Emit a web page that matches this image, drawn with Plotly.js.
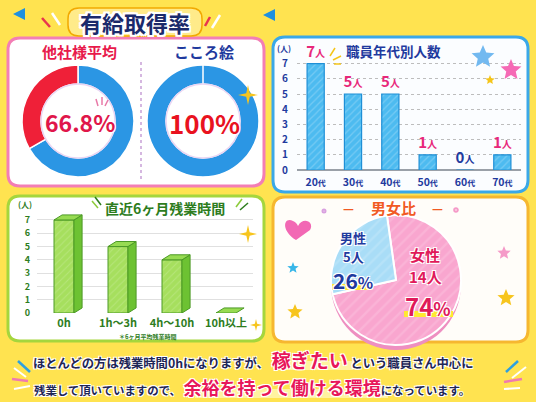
<!DOCTYPE html>
<html><head><meta charset="utf-8">
<script src="https://cdn.plot.ly/plotly-3.0.1.min.js"></script>
<style>html,body{margin:0;padding:0;background:#FFE350;}#chart{width:536px;height:402px;}</style>
</head><body><div id="chart"></div>
<script>
// ---- data ----
const leaveLabels = ['他社様平均', 'こころ絵'];
const leaveRates = [66.8, 100];
const ageGroups = ['20代', '30代', '40代', '50代', '60代', '70代'];
const ageCounts = [7, 5, 5, 1, 0, 1];
const overtimeCats = ['0h', '1h～3h', '4h～10h', '10h以上'];
const overtimeCounts = [7, 5, 4, 0];
const genderLabels = ['男性', '女性'];
const genderCounts = [5, 14];
const genderPct = [26, 74];
const countTicks = [0, 1, 2, 3, 4, 5, 6, 7];

// ---- helpers ----
const W = 536, H = 402;
const X = v => v / W, Y = v => 1 - v / H;
const F = '"Noto Sans CJK JP","Noto Sans",sans-serif';
const NAVY = '#1F3A9E', GREEN = '#2E7D1E', DARK = '#1E2656';
const WHITE1 = '1px 1px 0 #fff,-1px -1px 0 #fff,1px -1px 0 #fff,-1px 1px 0 #fff';
const WHITE2 = '2px 2px 0 #fff,-2px -2px 0 #fff,2px -2px 0 #fff,-2px 2px 0 #fff,0 2px 0 #fff,0 -2px 0 #fff,2px 0 0 #fff,-2px 0 0 #fff';

function rr(x0, y0, x1, y1, r) {
  return `M${X(x0 + r)},${Y(y0)} L${X(x1 - r)},${Y(y0)} Q${X(x1)},${Y(y0)} ${X(x1)},${Y(y0 + r)} ` +
    `L${X(x1)},${Y(y1 - r)} Q${X(x1)},${Y(y1)} ${X(x1 - r)},${Y(y1)} L${X(x0 + r)},${Y(y1)} ` +
    `Q${X(x0)},${Y(y1)} ${X(x0)},${Y(y1 - r)} L${X(x0)},${Y(y0 + r)} Q${X(x0)},${Y(y0)} ${X(x0 + r)},${Y(y0)} Z`;
}
function starPath(cx, cy, R, r, n) {
  let s = '';
  for (let i = 0; i < 2 * n; i++) {
    const a = -Math.PI / 2 + i * Math.PI / n;
    const rad = i % 2 === 0 ? R : r;
    s += (i === 0 ? 'M' : 'L') + X(cx + rad * Math.cos(a)) + ',' + Y(cy + rad * Math.sin(a)) + ' ';
  }
  return s + 'Z';
}
function polyPath(pts) {
  return pts.map((p, i) => (i ? 'L' : 'M') + X(p[0]) + ',' + Y(p[1])).join(' ') + ' Z';
}
function pathShape(path, fill, line, lw, layer) {
  return { type: 'path', xref: 'paper', yref: 'paper', path, fillcolor: fill,
    line: { color: line || fill, width: lw === undefined ? 0 : lw }, layer: layer || 'above' };
}
function lineShape(x0, y0, x1, y1, color, w, dash) {
  return { type: 'line', xref: 'paper', yref: 'paper', x0: X(x0), y0: Y(y0), x1: X(x1), y1: Y(y1),
    line: { color, width: w, dash: dash || 'solid' }, layer: 'above' };
}
function rectShape(x0, y0, x1, y1, fill) {
  return { type: 'rect', xref: 'paper', yref: 'paper', x0: X(x0), y0: Y(y1), x1: X(x1), y1: Y(y0),
    fillcolor: fill, line: { width: 0 }, layer: 'above' };
}
function circleShape(cx, cy, r, color, w) {
  return { type: 'circle', xref: 'paper', yref: 'paper', x0: X(cx - r), x1: X(cx + r), y0: Y(cy + r), y1: Y(cy - r),
    line: { color, width: w }, layer: 'above' };
}
function ann(text, x, y, size, color, extra) {
  return Object.assign({ text, x: X(x), y: Y(y), xref: 'paper', yref: 'paper', showarrow: false,
    xanchor: 'center', yanchor: 'middle',
    font: { family: F, size, color, weight: 'bold' } }, extra || {});
}
function annS(text, x, y, size, color, shadow) {
  return ann(text, x, y, size, color, { font: { family: F, size, color, weight: 'bold', shadow } });
}

// ---- traces ----
const traces = [];

// donuts
[[22, 134], [147, 259]].forEach((xr, k) => {
  traces.push({
    type: 'pie', values: [leaveRates[k], 100 - leaveRates[k]], labels: ['取得', '未取得'],
    marker: { colors: ['#2B96E4', '#EF2038'], line: { color: '#ffffff', width: 1.5 } },
    domain: { x: [X(xr[0]), X(xr[1])], y: [Y(177), Y(65)] },
    hole: 0.66, sort: false, direction: 'clockwise', rotation: 0,
    textinfo: 'none', hoverinfo: 'skip', showlegend: false
  });
});

// age bar chart
traces.push({
  type: 'bar', x: ageGroups, y: ageCounts, xaxis: 'x', yaxis: 'y',
  marker: { color: '#4DBBF0', line: { color: '#1E8FD6', width: 1.2 },
    pattern: { shape: '/', fillmode: 'overlay', fgcolor: 'rgba(255,255,255,0.45)', size: 5, solidity: 0.25 } },
  text: ageCounts.map(v => `${v}<span style="font-size:10px">人</span>`),
  textposition: 'outside', cliponaxis: false, constraintext: 'none',
  textfont: { family: F, size: 15, weight: 'bold', color: ageCounts.map(v => v === 0 ? NAVY : '#E8287A') },
  hoverinfo: 'skip', showlegend: false
});

// overtime 3D bars
const idx = overtimeCats.map((_, i) => i);
const hw = 0.185, dx = 0.15, dy = 0.38;
traces.push({
  type: 'bar', x: idx, y: overtimeCounts, width: 2 * hw, xaxis: 'x2', yaxis: 'y2',
  marker: { color: '#A6DF5E', line: { color: '#4C9A26', width: 1 },
    pattern: { shape: '/', fillmode: 'overlay', fgcolor: 'rgba(255,255,255,0.35)', size: 5, solidity: 0.2 } },
  hoverinfo: 'skip', showlegend: false
});
const sx = [], sy = [], tx = [], ty = [];
overtimeCounts.forEach((v, i) => {
  if (v > 0) {
    sx.push(i + hw, i + hw + dx, i + hw + dx, i + hw, i + hw, null);
    sy.push(0, dy, v + dy, v, 0, null);
  }
  tx.push(i - hw, i + hw, i + hw + dx, i - hw + dx, i - hw, null);
  ty.push(v, v, v + dy, v + dy, v, null);
});
traces.push({ type: 'scatter', x: sx, y: sy, xaxis: 'x2', yaxis: 'y2', mode: 'lines', fill: 'toself',
  fillcolor: '#6DC232', line: { color: '#4C9A26', width: 1 }, hoverinfo: 'skip', showlegend: false });
traces.push({ type: 'scatter', x: tx, y: ty, xaxis: 'x2', yaxis: 'y2', mode: 'lines', fill: 'toself',
  fillcolor: '#97DB52', line: { color: '#4C9A26', width: 1 }, hoverinfo: 'skip', showlegend: false });

// gender pie (thickness + face)
const gVals = genderCounts.slice().reverse();
const gLabs = genderLabels.slice().reverse();
traces.push({
  type: 'pie', values: gVals, labels: gLabs, sort: false, direction: 'clockwise', rotation: -8,
  marker: { colors: ['#EE8FC1', '#EE8FC1'], line: { color: '#EE8FC1', width: 0 } },
  domain: { x: [X(331), X(461)], y: [Y(350), Y(220)] },
  textinfo: 'none', hoverinfo: 'skip', showlegend: false
});
traces.push({
  type: 'pie', values: gVals, labels: gLabs, sort: false, direction: 'clockwise', rotation: -8,
  marker: { colors: ['#F9A6CF', '#A9DDF7'], line: { color: '#ffffff', width: 2 },
    pattern: { shape: '/', fillmode: 'overlay', fgcolor: 'rgba(255,255,255,0.3)', size: 8, solidity: 0.3 } },
  domain: { x: [X(331), X(461)], y: [Y(345), Y(215)] },
  textinfo: 'none', hoverinfo: 'skip', showlegend: false
});

// ---- shapes ----
const shapes = [
  pathShape(rr(8, 38, 264, 186, 12), '#FFFFFF', '#F37EB5', 3, 'below'),
  pathShape(rr(273, 37, 528, 192, 12), '#FBFDFF', '#3AA8E8', 3, 'below'),
  pathShape(rr(8, 196, 264, 341, 12), '#FFFFFF', '#A5D63D', 3, 'below'),
  pathShape(rr(273, 197, 528, 342, 12), '#FFFDF9', '#F6B730', 3, 'below'),
  // title ribbon
  pathShape(rr(68, 8, 202, 36, 11), '#FFEB8A', '#F2A900', 1.5, 'below'),
  // title deco
  pathShape(polyPath([[13, 14], [25, 8], [25, 20]]), '#1E90E0'),
  pathShape(polyPath([[263, 15], [275, 9], [275, 21]]), '#1E90E0'),
  lineShape(42, 18, 50, 27, '#E8344E', 2.5), lineShape(52, 13, 60, 25, '#FFFFFF', 2.5),
  lineShape(205, 26, 210, 17, '#E8344E', 2.5), lineShape(212, 28, 220, 15, '#FFFFFF', 2.5),
  // divider and donut hole rings
  lineShape(141, 62, 141, 182, '#C7A0D6', 1.5, 'dot'),
  circleShape(78, 121, 37, '#E9D5F3', 1.5), circleShape(203, 121, 37, '#E9D5F3', 1.5),
  lineShape(96, 99, 98, 106, '#E87AA8', 1.5), lineShape(102, 97, 102, 105, '#E87AA8', 1.5),
  lineShape(108, 100, 105, 106, '#E87AA8', 1.5),
  pathShape(starPath(248, 95, 10, 2.5, 4), '#F7C51E'),
  // top right stars
  pathShape(starPath(483, 57, 12, 5.5, 5), '#72B9F0'),
  pathShape(starPath(511, 70, 11, 5, 5), '#F56AB5'),
  pathShape(starPath(490, 80, 5, 2.3, 5), '#F5C518'),
  lineShape(330, 56, 335, 48, '#F5C518', 1.5), lineShape(333, 60, 341, 56, '#F5C518', 1.5),
  lineShape(334, 64, 341, 64, '#F5C518', 1.5),
  // green panel deco
  lineShape(92, 201, 98, 208, '#8CCB3A', 1.5), lineShape(95, 197, 101, 205, '#2E7D1E', 1.5),
  lineShape(236, 207, 242, 199, '#8CCB3A', 1.5), lineShape(240, 210, 248, 203, '#2E7D1E', 1.5),
  pathShape(starPath(248, 234, 9, 2.3, 4), '#F7C51E'),
  pathShape(starPath(256, 325, 6, 1.6, 4), '#F7C51E'),
  // orange panel deco
  pathShape(`M${X(296)},${Y(240)} C${X(280)},${Y(230)} ${X(284)},${Y(216)} ${X(293)},${Y(221)} ` +
    `C${X(296)},${Y(222)} ${X(297)},${Y(224)} ${X(298)},${Y(226)} C${X(303)},${Y(216)} ${X(315)},${Y(222)} ${X(310)},${Y(230)} Z`, '#F268B4'),
  pathShape(starPath(293, 268, 6, 2.6, 5), '#38B6E8'),
  pathShape(starPath(295, 312, 8, 3.6, 5), '#F7C51E'),
  pathShape(starPath(504, 253, 7, 3.2, 5), '#F59AC8'),
  pathShape(starPath(506, 298, 9, 4, 5), '#F7C51E'),
  circleShape(456, 210, 1.8, '#F59AC8', 2), circleShape(324, 211, 1.5, '#D9A0E0', 2),
  // highlights
  rectShape(332, 284, 372, 290, '#FFE930'),
  rectShape(404, 311, 453, 317, '#FFE930'),
  rectShape(277, 361, 353, 370, '#FFF3A0'),
  rectShape(195, 389, 388, 398, '#FFF3A0'),
  // bottom banner deco
  lineShape(18, 361, 30, 372, '#2DA0E0', 2.5), lineShape(14, 368, 26, 377, '#FFFFFF', 2),
  lineShape(12, 379, 28, 381, '#F07AB0', 2.5), lineShape(14, 389, 30, 386, '#FFFFFF', 2),
  lineShape(506, 372, 518, 361, '#2DA0E0', 2.5), lineShape(512, 378, 526, 367, '#FFFFFF', 2),
  lineShape(504, 382, 522, 379, '#F07AB0', 2.5), lineShape(504, 389, 520, 388, '#FFFFFF', 2)
];

// ---- annotations ----
const annotations = [
  annS('有給取得率', 135, 22, 22, '#1B2A6B', WHITE2),
  ann(leaveLabels[0], 79, 52, 15, '#E8194B'),
  ann(leaveLabels[1], 204, 52, 15, NAVY),
  annS(`${leaveRates[0]}%`, 80, 122, 23, '#E0164A', WHITE1),
  annS(`${leaveRates[1]}%`, 204, 122, 26, '#E9121F', WHITE1),
  ann('職員年代別人数', 393, 51, 13.5, NAVY),
  ann('(人)', 284, 49, 8, NAVY),
  ann('直近6ヶ月残業時間', 165, 208, 14, GREEN),
  ann('(人)', 25, 205, 8, GREEN),
  ann('＊6ヶ月平均残業時間', 148, 336, 6, GREEN),
  annS('男女比', 393, 207, 15, '#F15A24', WHITE1),
  ann('—', 348, 207, 12, '#F15A24'), ann('—', 437, 207, 12, '#F15A24'),
  annS(genderLabels[0], 353, 237, 13, NAVY, WHITE1),
  annS(`${genderCounts[0]}人`, 353, 256, 13, NAVY, WHITE1),
  annS(`${genderPct[0]}<span style="font-size:16px">%</span>`, 353, 280, 21, NAVY, WHITE1),
  annS(genderLabels[1], 425, 254, 15, '#E0195A', WHITE1),
  annS(`${genderCounts[1]}人`, 425, 276, 15, '#E0195A', WHITE1),
  annS(`${genderPct[1]}<span style="font-size:18px">%</span>`, 428, 305, 24, '#E0195A', WHITE1),
  annS('ほとんどの方は残業時間0hになりますが、 <span style="font-size:19px;color:#E8175A">稼ぎたい</span> という職員さん中心に',
    253, 359, 12.3, DARK, WHITE1),
  annS('残業して頂いていますので、 <span style="font-size:18px;color:#E8175A">余裕を持って働ける環境</span>になっています。',
    252, 387, 11.4, DARK, WHITE1)
];

const layout = {
  width: W, height: H, margin: { l: 0, r: 0, t: 0, b: 0 },
  paper_bgcolor: '#FFE350', plot_bgcolor: 'rgba(0,0,0,0)',
  showlegend: false, hovermode: false, bargap: 0.54,
  font: { family: F },
  xaxis: { domain: [X(297), X(521)], type: 'category', anchor: 'y',
    tickmode: 'array', tickvals: ageGroups,
    ticktext: ageGroups.map(a => a.replace('代', '<span style="font-size:8px">代</span>')),
    ticks: '', ticklabelstandoff: 4, showgrid: false, zeroline: false, showline: false,
    tickfont: { family: F, size: 10.5, color: NAVY, weight: 'bold' } },
  yaxis: { domain: [Y(170), Y(54.5)], range: [0, 7.6], anchor: 'x',
    tickmode: 'array', tickvals: countTicks, ticks: '', ticklabelstandoff: 8,
    showgrid: true, gridcolor: '#BDBDBD', griddash: 'dot', gridwidth: 1,
    zeroline: true, zerolinecolor: '#9AA0A8', zerolinewidth: 1.5, showline: false,
    tickfont: { family: F, size: 10, color: NAVY, weight: 'bold' } },
  xaxis2: { domain: [X(37), X(253)], range: [-0.5, 3.5], anchor: 'y2',
    tickmode: 'array', tickvals: idx, ticktext: overtimeCats, ticks: '', ticklabelstandoff: 2,
    showgrid: false, zeroline: false, showline: false,
    tickfont: { family: F, size: 11, color: GREEN, weight: 'bold' } },
  yaxis2: { domain: [Y(313), Y(212)], range: [0, 7.6], anchor: 'x2',
    tickmode: 'array', tickvals: countTicks, ticks: '', ticklabelstandoff: 6,
    showgrid: true, gridcolor: '#E0E0E0', gridwidth: 1, zeroline: false, showline: false,
    tickfont: { family: F, size: 9, color: GREEN, weight: 'bold' } },
  shapes, annotations
};

Plotly.newPlot('chart', traces, layout, { displayModeBar: false, staticPlot: true });
</script></body></html>
